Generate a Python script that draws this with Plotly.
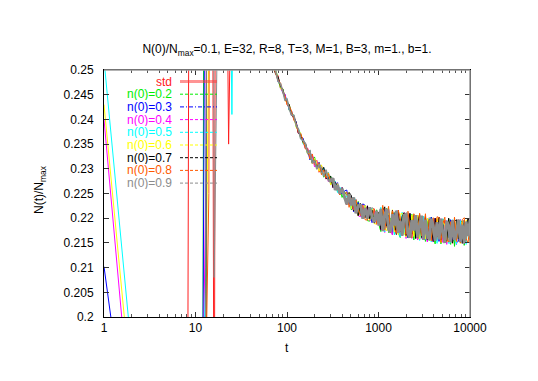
import plotly.graph_objects as go

# values are stored in units of 1e-4 of N_max
SCALE = 1e-4

# sampling times: every step early on, thinned out along the log axis later
T = [1, 2, 3, 4, 5, 6, 7, 8, 9, 10,
     11, 12, 13, 14, 15, 16, 17, 18, 19, 20,
     21, 22, 23, 24, 25, 26, 27, 28, 29, 30,
     35, 40, 45, 50, 55, 60, 65, 70,
     75, 80, 85, 90, 95, 100, 106, 112, 119, 126,
     133, 141, 150, 159, 168, 178, 189, 200, 212, 224,
     238, 252, 267, 283, 300, 318, 337, 357, 378, 400,
     424, 450, 477, 505, 535, 567, 600, 636, 674, 714,
     757, 802, 850, 900, 954, 1010, 1060, 1113, 1169, 1227,
     1289, 1353, 1421, 1492, 1567, 1645, 1727, 1814, 1904, 2000,
     2100, 2205, 2315, 2431, 2552, 2680, 2814, 2955, 3102, 3258,
     3420, 3591, 3771, 3960, 4158, 4366, 4584, 4813, 5054, 5307,
     5572, 5850, 6143, 6450, 6772, 7111, 7467, 7840, 8232, 8644,
     9076, 9530, 10000]
N_EARLY = 38   # points up to t=70, before the curves settle into the band
N_MID = 62     # points up to t=300, where the band is still thin

STD = [1700, 1400, 1100, 900, 800, 800, 900, 1000, 4500, 5200,
       5000, 4700, 4400, 4000, 3600, 1500, 4200, 3900, 3600, 3300,
       3000, 2750, 2350, 2700, 2950, 3000, 2950, 2900, 2850, 2800,
       2720, 2660, 2620, 2585, 2560, 2540, 2525, 2512,
       2496, 2488, 2463, 2459, 2449, 2430, 2426, 2410, 2408, 2389,
       2373, 2371, 2354, 2351, 2332, 2338, 2313, 2312, 2317, 2293,
       2304, 2294, 2279, 2293, 2272, 2279, 2259, 2266, 2249, 2261,
       2244, 2227, 2250, 2228, 2216, 2238, 2211, 2227, 2200, 2215,
       2222, 2195, 2221, 2218, 2190, 2206, 2176, 2216, 2219, 2181,
       2202, 2170, 2213, 2186, 2214, 2171, 2167, 2204, 2211, 2174,
       2194, 2162, 2205, 2182, 2159, 2206, 2165, 2194, 2202, 2159,
       2171, 2201, 2162, 2196, 2153, 2181, 2200, 2155, 2164, 2196,
       2151, 2191, 2176, 2149, 2194, 2159, 2197, 2154, 2183, 2152,
       2154, 2198, 2165]

N02 = [1800, 1500, 1200, 1000, 900, 850, 850, 950, 1100, 1300,
       1550, 1750, 4800, 5200, 4900, 4500, 4200, 3900, 3600, 3300,
       3100, 2950, 2850, 2800, 2780, 2760, 2740, 2720, 2700, 2690,
       2650, 2610, 2580, 2560, 2545, 2532, 2522, 2510,
       2502, 2479, 2464, 2462, 2443, 2439, 2418, 2414, 2407, 2386,
       2380, 2362, 2360, 2347, 2330, 2330, 2312, 2324, 2303, 2302,
       2307, 2283, 2293, 2276, 2285, 2268, 2275, 2253, 2260, 2242,
       2254, 2246, 2248, 2217, 2236, 2213, 2234, 2214, 2202, 2225,
       2195, 2194, 2218, 2198, 2217, 2187, 2173, 2213, 2186, 2220,
       2171, 2200, 2166, 2211, 2213, 2170, 2161, 2200, 2174, 2209,
       2160, 2187, 2208, 2156, 2200, 2165, 2156, 2202, 2188, 2153,
       2195, 2155, 2202, 2168, 2148, 2196, 2187, 2148, 2198, 2153,
       2167, 2198, 2147, 2187, 2143, 2192, 2159, 2195, 2193, 2145,
       2183, 2197, 2152]

N03 = [2102, 1701, 1400, 1150, 1000, 950, 950, 1050, 1200, 1400,
       1600, 1850, 3200, 4800, 4700, 4400, 4100, 3800, 3500, 3250,
       3050, 2900, 2820, 2790, 2770, 2750, 2730, 2710, 2695, 2685,
       2645, 2605, 2575, 2555, 2540, 2530, 2520, 2508,
       2501, 2476, 2470, 2453, 2451, 2435, 2419, 2417, 2400, 2395,
       2374, 2366, 2362, 2341, 2339, 2318, 2326, 2315, 2300, 2313,
       2293, 2300, 2280, 2287, 2269, 2281, 2264, 2272, 2250, 2250,
       2255, 2257, 2228, 2242, 2213, 2226, 2232, 2204, 2229, 2226,
       2198, 2214, 2191, 2217, 2198, 2189, 2206, 2174, 2217, 2190,
       2218, 2175, 2171, 2208, 2215, 2178, 2198, 2165, 2208, 2184,
       2161, 2209, 2167, 2197, 2205, 2161, 2174, 2204, 2164, 2199,
       2155, 2183, 2202, 2157, 2166, 2198, 2153, 2192, 2178, 2150,
       2195, 2160, 2197, 2154, 2183, 2151, 2153, 2197, 2164, 2151,
       2192, 2196, 2159]

N04 = [2400, 1778, 1450, 1200, 1050, 980, 980, 1080, 1250, 1450,
       1650, 1800, 2300, 5000, 4800, 4500, 4200, 3900, 3600, 3300,
       3100, 2950, 2850, 2810, 2780, 2760, 2740, 2720, 2700, 2690,
       2652, 2612, 2582, 2561, 2546, 2533, 2523, 2511,
       2495, 2485, 2462, 2457, 2450, 2432, 2426, 2408, 2406, 2391,
       2372, 2372, 2353, 2342, 2342, 2327, 2329, 2304, 2314, 2296,
       2306, 2289, 2296, 2274, 2280, 2262, 2274, 2264, 2249, 2262,
       2241, 2232, 2251, 2229, 2215, 2236, 2205, 2203, 2226, 2206,
       2225, 2195, 2210, 2215, 2187, 2209, 2176, 2204, 2171, 2215,
       2217, 2175, 2166, 2204, 2179, 2213, 2165, 2190, 2211, 2159,
       2202, 2169, 2159, 2205, 2191, 2156, 2198, 2159, 2204, 2172,
       2152, 2198, 2189, 2152, 2200, 2156, 2170, 2199, 2151, 2188,
       2147, 2193, 2160, 2195, 2193, 2146, 2182, 2196, 2152, 2149,
       2189, 2164, 2198]

N05 = [2521, 1931, 1500, 1250, 1100, 1000, 1000, 1100, 1250, 1450,
       1650, 1850, 2100, 4600, 4700, 4400, 4100, 3800, 3500, 3250,
       3050, 2900, 2800, 2700, 2410, 2750, 2740, 2720, 2700, 2690,
       2648, 2608, 2578, 2558, 2543, 2531, 2521, 2509,
       2503, 2481, 2463, 2460, 2443, 2441, 2420, 2412, 2408, 2385,
       2381, 2371, 2350, 2348, 2333, 2338, 2315, 2321, 2301, 2307,
       2290, 2302, 2285, 2293, 2270, 2270, 2275, 2252, 2263, 2253,
       2238, 2245, 2249, 2219, 2242, 2237, 2208, 2223, 2199, 2225,
       2206, 2197, 2221, 2195, 2212, 2186, 2222, 2176, 2172, 2212,
       2219, 2179, 2202, 2166, 2212, 2185, 2162, 2212, 2167, 2199,
       2207, 2161, 2173, 2207, 2164, 2201, 2155, 2186, 2204, 2157,
       2165, 2200, 2152, 2194, 2180, 2149, 2197, 2158, 2199, 2152,
       2184, 2149, 2150, 2197, 2161, 2147, 2191, 2195, 2155, 2181,
       2147, 2194, 2165]

N06 = [2430, 1847, 1480, 1230, 1080, 1000, 990, 1090, 1240, 1440,
       1640, 1820, 2000, 2600, 4900, 4600, 4300, 4000, 3700, 3400,
       3150, 2980, 2870, 2810, 2780, 2760, 2740, 2720, 2700, 2690,
       2651, 2611, 2581, 2560, 2545, 2532, 2522, 2510,
       2501, 2483, 2462, 2461, 2442, 2432, 2430, 2411, 2405, 2384,
       2379, 2372, 2352, 2348, 2331, 2331, 2310, 2321, 2311, 2295,
       2308, 2287, 2287, 2292, 2267, 2277, 2260, 2270, 2253, 2260,
       2238, 2236, 2252, 2219, 2231, 2234, 2205, 2226, 2204, 2226,
       2207, 2196, 2219, 2189, 2188, 2212, 2208, 2221, 2179, 2174,
       2210, 2187, 2217, 2172, 2197, 2167, 2208, 2210, 2171, 2162,
       2197, 2176, 2207, 2163, 2185, 2206, 2158, 2198, 2167, 2158,
       2200, 2186, 2155, 2193, 2158, 2200, 2171, 2151, 2195, 2185,
       2152, 2197, 2156, 2170, 2197, 2152, 2187, 2149, 2192, 2164,
       2196, 2194, 2150]

N07 = [1750, 1450, 1150, 950, 850, 820, 850, 950, 1100, 1300,
       1500, 1700, 1950, 4700, 5000, 4600, 4300, 4000, 3700, 3400,
       3150, 2980, 2870, 2810, 2780, 2760, 2740, 2720, 2700, 2690,
       2649, 2609, 2579, 2559, 2544, 2532, 2521, 2509,
       2492, 2486, 2466, 2461, 2441, 2435, 2430, 2408, 2405, 2394,
       2372, 2369, 2353, 2352, 2335, 2335, 2312, 2318, 2301, 2312,
       2295, 2303, 2281, 2281, 2285, 2262, 2273, 2263, 2248, 2262,
       2242, 2229, 2252, 2246, 2215, 2229, 2205, 2230, 2210, 2201,
       2225, 2199, 2216, 2190, 2205, 2212, 2177, 2216, 2223, 2184,
       2206, 2171, 2216, 2190, 2167, 2216, 2172, 2203, 2211, 2165,
       2177, 2210, 2168, 2205, 2159, 2189, 2208, 2161, 2169, 2204,
       2156, 2197, 2183, 2153, 2200, 2162, 2202, 2156, 2187, 2152,
       2154, 2200, 2164, 2150, 2193, 2197, 2158, 2182, 2149, 2196,
       2168, 2199, 2155]

N08 = [1650, 1350, 1050, 880, 800, 800, 870, 980, 1130, 1330,
       1530, 1720, 1900, 2250, 4800, 4600, 4300, 4000, 3700, 3400,
       3150, 2980, 2870, 2810, 2780, 2760, 2740, 2720, 2700, 2690,
       2650, 2610, 2580, 2560, 2545, 2532, 2522, 2510,
       2494, 2478, 2474, 2454, 2448, 2430, 2425, 2418, 2398, 2392,
       2373, 2371, 2357, 2340, 2341, 2320, 2330, 2308, 2308, 2312,
       2288, 2298, 2281, 2291, 2273, 2280, 2258, 2265, 2247, 2259,
       2249, 2253, 2222, 2241, 2217, 2237, 2217, 2205, 2227, 2197,
       2196, 2220, 2200, 2219, 2189, 2204, 2190, 2226, 2176, 2203,
       2224, 2170, 2215, 2179, 2169, 2216, 2202, 2165, 2208, 2167,
       2214, 2180, 2160, 2209, 2199, 2160, 2210, 2164, 2177, 2209,
       2158, 2197, 2154, 2201, 2167, 2203, 2201, 2151, 2189, 2202,
       2156, 2152, 2193, 2166, 2202, 2153, 2184, 2150, 2197, 2201,
       2158, 2150, 2191]

N09 = [1600, 1300, 1000, 850, 780, 780, 850, 960, 1120, 1320,
       1520, 1700, 2050, 4900, 5100, 2080, 4500, 4100, 3800, 3500,
       3200, 3000, 2880, 2820, 2790, 2770, 2750, 2730, 2710, 2695,
       2655, 2615, 2585, 2562, 2545, 2532, 2522, 2512,
       2499, 2477, 2472, 2457, 2439, 2441, 2421, 2409, 2408, 2388,
       2381, 2361, 2357, 2351, 2332, 2336, 2311, 2317, 2299, 2310,
       2300, 2285, 2298, 2277, 2276, 2281, 2257, 2267, 2250, 2260,
       2243, 2228, 2249, 2226, 2242, 2210, 2224, 2228, 2199, 2221,
       2200, 2222, 2203, 2192, 2215, 2185, 2219, 2174, 2206, 2219,
       2177, 2172, 2208, 2185, 2215, 2170, 2195, 2165, 2206, 2208,
       2169, 2161, 2196, 2175, 2206, 2161, 2184, 2205, 2156, 2197,
       2166, 2156, 2199, 2185, 2154, 2192, 2157, 2199, 2170, 2150,
       2194, 2185, 2151, 2196, 2156, 2170, 2197, 2152, 2187, 2150,
       2193, 2164, 2196]

NAMES = ["std", "n(0)=0.2", "n(0)=0.3", "n(0)=0.4", "n(0)=0.5",
         "n(0)=0.6", "n(0)=0.7", "n(0)=0.8", "n(0)=0.9"]
COLORS = ["#ff2020", "#00ee00", "#0000ff", "#ff00ff", "#00ffff",
          "#ffff00", "#000000", "#ff5a00", "#8c8c8c"]
DASHES = ["solid", "3px,2px", "4px,2px,1px,2px", "3px,2px", "3px,2px",
          "3px,2px", "3px,2px", "3px,2px", "3px,2px"]
ALL_SERIES = [STD, N02, N03, N04, N05, N06, N07, N08, N09]

# (first index, last index, width of last series, width of the others)
SEGMENTS = [(0, N_EARLY, 1, 1),
            (N_EARLY - 1, N_MID, 1.6, 1),
            (N_MID - 1, len(T), 3, 1)]

Y_TICKS = [0.2, 0.205, 0.21, 0.215, 0.22, 0.225, 0.23, 0.235, 0.24, 0.245, 0.25]
Y_TICKTEXT = ["0.2", "0.205", "0.21", "0.215", "0.22", "0.225",
              "0.23", "0.235", "0.24", "0.245", "0.25"]
X_TICKS = [1, 10, 100, 1000, 10000]
X_TICKTEXT = ["1", "10", "100", "1000", "10000"]
X_MINOR = [m * 10 ** k for k in range(4) for m in range(2, 10)]

# plot area in page pixels (538x381 window); the page body adds an 8px offset
L, R, TOP, BOT = 104, 470, 70, 317
W, H = 538, 381
OFF = 8
FONT = "Liberation Sans, Arial, Helvetica, sans-serif"


def px_x(px):
    return (px - L) / (R - L)


def px_y(py):
    return (BOT - py) / (BOT - TOP)


fig = go.Figure()

for i0, i1, w_last, w_other in SEGMENTS:
    for k, (name, vals, color) in enumerate(zip(NAMES, ALL_SERIES, COLORS)):
        lw = w_last if k == len(NAMES) - 1 else w_other
        fig.add_trace(go.Scatter(
            x=T[i0:i1], y=[v * SCALE for v in vals[i0:i1]], mode="lines",
            name=name, line=dict(color=color, width=lw), showlegend=False,
        ))

# gnuplot style key: right aligned text, sample line on its right
for i, (name, color, dash) in enumerate(zip(NAMES, COLORS, DASHES)):
    yy = px_y(81.5 + 12.7 * i)
    fig.add_annotation(
        x=px_x(174), y=yy, xref="paper", yref="paper", text=name,
        showarrow=False, xanchor="right", yanchor="middle", height=12,
        font=dict(family=FONT, size=12, color=color),
    )
    if i == 0:
        ln = dict(color="rgba(255,60,60,0.55)", width=3)
    else:
        ln = dict(color=color, width=1, dash=dash)
    fig.add_shape(type="line", xref="paper", yref="paper",
                  x0=px_x(180), x1=px_x(217), y0=yy, y1=yy, line=ln)

# top / right border drawn lighter, as in the original
fig.add_shape(type="line", xref="paper", yref="paper", x0=0, x1=1, y0=1, y1=1,
              line=dict(color="#9a9a9a", width=1.5), layer="above")
fig.add_shape(type="line", xref="paper", yref="paper", x0=1, x1=1, y0=0, y1=1,
              line=dict(color="#9a9a9a", width=1.5), layer="above")

# axis titles
fig.add_annotation(x=px_x(40), y=px_y(190), xref="paper", yref="paper",
                   text="N(t)/N<sub>max</sub>", textangle=-90, showarrow=False,
                   xanchor="center", yanchor="middle",
                   font=dict(family=FONT, size=12, color="black"))
fig.add_annotation(x=0.5, y=px_y(348), xref="paper", yref="paper",
                   text="t", showarrow=False, xanchor="center", yanchor="middle",
                   font=dict(family=FONT, size=12, color="black"))

fig.update_layout(
    width=W, height=H, autosize=False,
    margin=dict(l=L - OFF, r=W - R + OFF, t=TOP - OFF, b=H - BOT + OFF),
    paper_bgcolor="white", plot_bgcolor="white",
    font=dict(family=FONT, size=12, color="black"),
    title=dict(
        text="N(0)/N<sub>max</sub>=0.1, E=32, R=8, T=3, M=1, B=3, m=1., b=1.",
        x=0.5, xref="paper", xanchor="center",
        y=1 - (49 - OFF) / H, yref="container", yanchor="middle",
        font=dict(family=FONT, size=12, color="black"),
    ),
    showlegend=False,
)

fig.update_xaxes(
    type="log", range=[0, 4], showgrid=False, zeroline=False,
    showline=True, linecolor="black", linewidth=1, mirror="ticks",
    ticks="inside", ticklen=5, tickcolor="#333", tickwidth=1,
    tickvals=X_TICKS, ticktext=X_TICKTEXT, ticklabelstandoff=0,
    minor=dict(ticks="inside", ticklen=3, tickcolor="#555",
               tickmode="array", tickvals=X_MINOR, showgrid=False),
)
fig.update_yaxes(
    range=[0.2, 0.25], showgrid=False, zeroline=False,
    showline=True, linecolor="black", linewidth=1, mirror="ticks",
    ticks="inside", ticklen=5, tickcolor="#333", tickwidth=1,
    tickvals=Y_TICKS, ticktext=Y_TICKTEXT, ticklabelstandoff=7,
)

fig.write_html("out.html")
